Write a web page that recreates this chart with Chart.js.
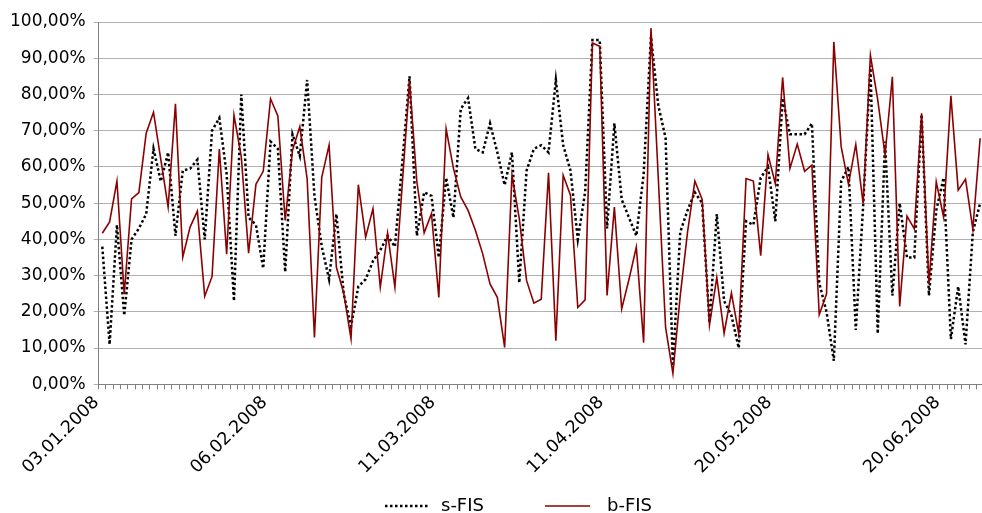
<!DOCTYPE html>
<html>
<head>
<meta charset="utf-8">
<script src="https://cdn.jsdelivr.net/npm/chart.js@4.4.1/dist/chart.umd.min.js"></script>
<style>
  html, body { margin: 0; padding: 0; background: #fff; overflow: hidden; }
  #wrap { width: 998px; height: 513px; }
</style>
</head>
<body>
<div id="wrap"><canvas id="fisChart"></canvas></div>
<script>
// tick labels shown under the axis, one every labelStep days
const tickLabels = ["03.01.2008", "06.02.2008", "11.03.2008", "11.04.2008", "20.05.2008", "20.06.2008"];
const labelStep = 23;

// values in percent
const sFis = [
  38, 11, 44, 19, 40, 43, 47, 65, 56, 64, 41, 59, 59.5, 62, 40, 70, 73.5, 58, 23, 80,
  46, 44, 32, 67, 65, 31, 69, 63, 84, 52, 38, 29, 47, 25, 16, 27, 29, 34, 37, 41,
  38, 61, 85, 41, 53, 52, 35, 57, 46, 76, 79, 65, 64, 72, 64, 55, 64, 28, 59, 65,
  66, 64, 84, 66, 59, 40, 53, 95, 95, 43, 72, 51, 46, 41, 58, 96, 77, 68, 5, 42,
  48, 53, 50, 17, 47, 23, 19, 10, 45, 44, 57, 60, 45, 79, 69, 69, 69, 72, 28, 20,
  6.5, 56, 60, 15, 49, 88, 14, 67, 24.5, 50, 35, 35, 74.5, 24.5, 48, 57, 12.5, 27, 11, 42, 50
];
const bFis = [
  41.7, 44.8, 56.1, 24.9, 51.2, 52.9, 69.3, 75.1, 62.0, 48.9, 77.4, 35.1, 43.4, 47.8, 24.3, 29.7, 64.9, 35.9, 74.3, 62.8,
  36.2, 55.2, 58.8, 78.8, 74.1, 45.2, 64.6, 71.1, 56.8, 12.9, 57.1, 66.0, 32.3, 25.2, 12.6, 55.1, 40.6, 48.5, 26.8, 41.7,
  26.8, 55.0, 83.6, 55.9, 41.8, 47.1, 24.0, 70.5, 59.6, 51.7, 48.0, 42.5, 36.0, 27.7, 24.0, 10.2, 57.7, 45.7, 28.6, 22.4,
  23.5, 58.4, 12.0, 57.7, 52.2, 21.2, 23.3, 94.2, 93.3, 24.5, 48.9, 20.8, 29.0, 37.9, 11.5, 98.3, 57.0, 15.7, 3.0, 24.4,
  42.0, 56.1, 51.0, 16.3, 29.5, 14.1, 25.2, 13.9, 56.8, 56.1, 35.5, 63.4, 55.4, 84.7, 59.6, 66.3, 58.8, 60.5, 19.2, 24.9,
  94.5, 65.6, 55.2, 66.2, 49.9, 90.8, 78.5, 63.3, 84.9, 21.5, 46.4, 42.9, 74.8, 27.7, 55.9, 46.2, 79.6, 53.6, 56.6, 42.8, 67.9
];

const categories = sFis.map((_, i) => (i % labelStep === 0 ? tickLabels[i / labelStep] || "" : ""));

const FONT = "DejaVu Sans";

// legend drawn under the chart like the excel one (line sample + name)
const legendX = [385, 545];
const bottomLegend = {
  id: "bottomLegend",
  afterDraw(chart) {
    const ctx = chart.ctx;
    const y = 506;
    ctx.save();
    ctx.font = `18px "${FONT}"`;
    ctx.textBaseline = "middle";
    ctx.textAlign = "left";
    chart.data.datasets.forEach((ds, i) => {
      const x = legendX[i];
      ctx.beginPath();
      ctx.setLineDash(ds.borderDash || []);
      ctx.strokeStyle = ds.borderColor;
      ctx.lineWidth = ds.borderWidth;
      ctx.moveTo(x, y);
      ctx.lineTo(x + 45, y);
      ctx.stroke();
      ctx.setLineDash([]);
      ctx.fillStyle = "#000";
      ctx.fillText(ds.label, x + 56 + i * 6, y);
    });
    ctx.restore();
  }
};

new Chart(document.getElementById("fisChart"), {
  type: "line",
  data: {
    labels: categories,
    datasets: [
      {
        label: "s-FIS",
        data: sFis,
        borderColor: "#000000",
        borderWidth: 2.5,
        borderDash: [2.5, 2.5],
        pointRadius: 0,
        tension: 0,
        order: 1
      },
      {
        label: "b-FIS",
        data: bFis,
        borderColor: "#8b0000",
        borderWidth: 1.6,
        pointRadius: 0,
        tension: 0,
        order: 0
      }
    ]
  },
  options: {
    responsive: true,
    maintainAspectRatio: false,
    animation: false,
    layout: { padding: { left: 2, top: 22, right: 0, bottom: 32 } },
    plugins: {
      legend: { display: false },
      tooltip: { enabled: false }
    },
    scales: {
      x: {
        offset: true,
        grid: { offset: true, drawOnChartArea: false, tickLength: 5, color: "#808080" },
        border: { color: "#808080" },
        ticks: {
          autoSkip: false,
          maxRotation: 45,
          minRotation: 45,
          labelOffset: -6,
          color: "#000",
          font: { family: FONT, size: 17.5 }
        }
      },
      y: {
        min: 0,
        max: 100,
        grid: { color: "#b0b0b0", tickLength: 5 },
        border: { color: "#808080" },
        ticks: {
          stepSize: 10,
          padding: 8,
          color: "#000",
          font: { family: FONT, size: 17 },
          callback: v => v.toFixed(2).replace(".", ",") + "%"
        }
      }
    }
  },
  plugins: [bottomLegend]
});
</script>
</body>
</html>
